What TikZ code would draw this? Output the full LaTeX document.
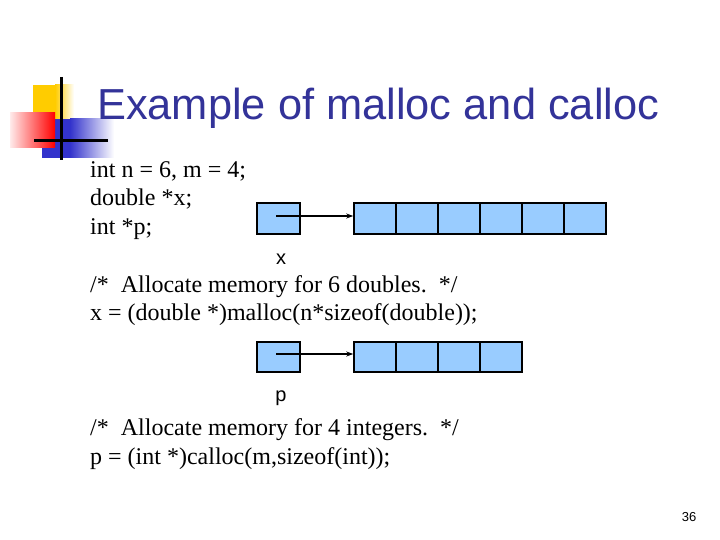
\documentclass[tikz,border=0pt]{standalone}
\usepackage{fontspec}
\setmainfont{Liberation Serif}
\setsansfont{Liberation Sans}
\usepackage{tikz}
\usetikzlibrary{arrows.meta, calc}
\definecolor{titleblue}{RGB}{51,51,153}
\definecolor{cellblue}{RGB}{153,204,255}
\definecolor{logoyellow}{RGB}{255,204,0}
\definecolor{logoblue}{RGB}{51,51,204}
\tikzset{
    code/.style={anchor=base west, inner sep=0pt, font=\fontsize{24}{28}\selectfont},
    cell/.style={draw=black, fill=cellblue, line width=1.5pt, minimum width=42pt, minimum height=31pt, inner sep=0pt},
    pointer/.style={-{Stealth[length=7pt, width=5pt]}, line width=1.4pt},
    varname/.style={anchor=base, inner sep=0pt, font=\sffamily\fontsize{20}{22}\selectfont}
}

\begin{document}
\begin{tikzpicture}[x=1pt, y=-1pt]
    \useasboundingbox[fill=white] (0,0) rectangle (720,540);
    % logo
    \fill[logoyellow] (33,85) rectangle (55,125);
    \shade[left color=logoyellow, right color=white] (55,85) rectangle (74,125);
    \fill[logoblue] (42,119) rectangle (70,158);
    \shade[left color=logoblue, right color=white] (70,119) rectangle (114,158);
    \shade[left color=red!8, right color=red] (10,113) rectangle (55,148);
    \draw[line width=3pt] (61,77) -- (61,160);
    \draw[line width=3pt] (34,141) -- (108,141);

    \node[anchor=base west, inner sep=0pt, text=titleblue, font=\sffamily\fontsize{43.4}{48}\selectfont] (title) at (97,120) {Example of malloc and calloc};

    \node[code] (decl1) at (90,178) {int n = 6, m = 4;};
    \node[code] (decl2) at (90,206) {double *x;};
    \node[code] (decl3) at (90,234) {int *p;};
    \node[code] (cmt1) at (90,292) {/*\ \ Allocate memory for 6 doubles.\ \ */};
    \node[code] (alloc1) at (90,320) {x = (double *)malloc(n*sizeof(double));};
    \node[code] (cmt2) at (90,435) {/*\ \ Allocate memory for 4 integers.\ \ */};
    \node[code] (alloc2) at (90,464) {p = (int *)calloc(m,sizeof(int));};

    % x and its 6 doubles
    \node[cell, minimum width=43pt] (xptr) at (278.5,218.5) {};
    \foreach \i in {1,...,6}
        \node[cell] (xa\i) at ({333+42*\i},218.5) {};
    \coordinate (xs) at (276,216);
    \draw[pointer] (xs) -- (xs -| xa1.west);
    \node[varname] (xlbl) at (281,264) {x};

    % p and its 4 ints
    \node[cell, minimum width=43pt, minimum height=30pt] (pptr) at (278.5,357) {};
    \foreach \i in {1,...,4}
        \node[cell, minimum height=30pt] (pa\i) at ({333+42*\i},357) {};
    \coordinate (ps) at (276,354);
    \draw[pointer] (ps) -- (ps -| pa1.west);
    \node[varname] (plbl) at (281,401) {p};

    \node[anchor=base, inner sep=0pt, font=\sffamily\fontsize{13}{15}\selectfont] (pagenum) at (689,521) {36};
\end{tikzpicture}
\end{document}
